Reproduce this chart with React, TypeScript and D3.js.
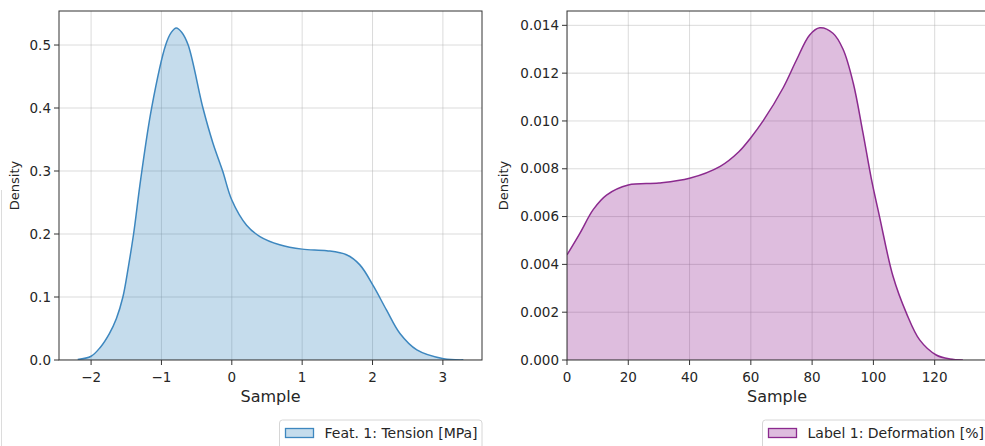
import React from "react";
import * as d3 from "d3";

// Left panel: KDE of Feat. 1: Tension [MPa]
const tensionX = [-2.19, -2.0, -1.87, -1.74, -1.64, -1.548, -1.47, -1.396, -1.296, -1.14, -0.94, -0.86, -0.79, -0.71, -0.62, -0.41, -0.27, -0.13, 0.0, 0.21, 0.4, 0.68, 1.0, 1.35, 1.63, 1.82, 2.02, 2.2, 2.39, 2.63, 3.01, 3.29];
const tensionD = [0.0008, 0.006, 0.02, 0.042, 0.066, 0.1, 0.148, 0.2, 0.286, 0.4, 0.5, 0.52, 0.527, 0.52, 0.5, 0.4, 0.345, 0.3, 0.254, 0.214, 0.196, 0.183, 0.176, 0.1735, 0.167, 0.151, 0.116, 0.079, 0.042, 0.016, 0.002, 0.0002];
const leftXTicks = [-2, -1, 0, 1, 2, 3];
const leftYTicks = [0.0, 0.1, 0.2, 0.3, 0.4, 0.5];

// Right panel: KDE of Label 1: Deformation [%]
const deformX = [0, 4.2, 8.6, 12.9, 20, 30, 40, 50, 56, 60, 64, 70.6, 74.9, 79.2, 82.5, 86.8, 90.1, 93.4, 96.6, 99.3, 102, 106.4, 110.8, 115.1, 120.5, 125, 129.2];
const deformD = [0.0044, 0.0053, 0.0063, 0.0069, 0.00732, 0.0074, 0.0076, 0.0081, 0.0087, 0.0093, 0.01, 0.0114, 0.01255, 0.0136, 0.0139, 0.01367, 0.013, 0.0116, 0.0095, 0.0076, 0.006, 0.0035, 0.00195, 0.00084, 0.00021, 0.00004, 0.0];
const rightXTicks = [0, 20, 40, 60, 80, 100, 120, 140];
const rightYTicks = [0.0, 0.002, 0.004, 0.006, 0.008, 0.01, 0.012, 0.014];

const FONT = "DejaVu Sans, sans-serif";
const TEXT = "#262626";

type PanelProps = {
  xs: number[];
  ds: number[];
  xDomain: [number, number];
  yDomain: [number, number];
  left: number;
  right: number;
  top: number;
  bottom: number;
  xTicks: number[];
  yTicks: number[];
  yFmt: (v: number) => string;
  xFmt: (v: number) => string;
  line: string;
  fill: string;
  fillOpacity: number;
  ylabelX: number;
  legendLabel: string;
  legendLeft: number;
};

function Panel(p: PanelProps) {
  const x = d3.scaleLinear().domain(p.xDomain).range([p.left, p.right]);
  const y = d3.scaleLinear().domain(p.yDomain).range([p.bottom, p.top]);
  const pts: [number, number][] = p.xs.map((v, i) => [v, p.ds[i]]);
  const curve = d3.curveCatmullRom.alpha(0.5);
  const area = d3
    .area<[number, number]>()
    .x((d) => x(d[0]))
    .y0(y(0))
    .y1((d) => y(d[1]))
    .curve(curve);
  const line = d3
    .line<[number, number]>()
    .x((d) => x(d[0]))
    .y((d) => y(d[1]))
    .curve(curve);
  const clipId = "clip" + p.left;
  const midX = (p.left + p.right) / 2;
  const midY = (p.top + p.bottom) / 2;
  return (
    <g>
      <defs>
        <clipPath id={clipId}>
          <rect x={p.left} y={p.top} width={p.right - p.left} height={p.bottom - p.top} />
        </clipPath>
      </defs>
      <rect x={p.left} y={p.top} width={p.right - p.left} height={p.bottom - p.top} fill="#fff" />
      <g clipPath={`url(#${clipId})`}>
        {p.xTicks.map((t) => (
          <line key={"gx" + t} x1={x(t)} x2={x(t)} y1={p.top} y2={p.bottom} stroke="#b0b0b0" strokeOpacity={0.45} strokeWidth={1} />
        ))}
        {p.yTicks.map((t) => (
          <line key={"gy" + t} x1={p.left} x2={p.right} y1={y(t)} y2={y(t)} stroke="#b0b0b0" strokeOpacity={0.45} strokeWidth={1} />
        ))}
        <path d={area(pts) || ""} fill={p.fill} fillOpacity={p.fillOpacity} />
        <path d={line(pts) || ""} fill="none" stroke={p.line} strokeWidth={1.5} />
      </g>
      <rect x={p.left} y={p.top} width={p.right - p.left} height={p.bottom - p.top} fill="none" stroke="#333" strokeWidth={1} />
      {p.xTicks.map((t) =>
        x(t) <= p.right + 0.5 ? (
          <g key={"tx" + t}>
            <line x1={x(t)} x2={x(t)} y1={p.bottom} y2={p.bottom + 5} stroke="#333" />
            <text x={x(t)} y={p.bottom + 22} textAnchor="middle" fontSize={13.5} fontFamily={FONT} fill={TEXT}>
              {p.xFmt(t)}
            </text>
          </g>
        ) : null
      )}
      {p.yTicks.map((t) => (
        <g key={"ty" + t}>
          <line x1={p.left - 5} x2={p.left} y1={y(t)} y2={y(t)} stroke="#333" />
          <text x={p.left - 8} y={y(t)} dy="0.35em" textAnchor="end" fontSize={13.5} fontFamily={FONT} fill={TEXT}>
            {p.yFmt(t)}
          </text>
        </g>
      ))}
      <text x={midX} y={p.bottom + 42} textAnchor="middle" fontSize={16} fontFamily={FONT} fill={TEXT}>
        Sample
      </text>
      <text
        transform={`translate(${p.ylabelX},${midY}) rotate(-90)`}
        textAnchor="middle"
        dy="0.35em"
        fontSize={13}
        fontFamily={FONT}
        fill={TEXT}
      >
        Density
      </text>
      <g>
        <rect x={p.legendLeft} y={420} width={p.right - p.legendLeft} height={29} rx={3} fill="#fff" stroke="#d6d6d6" />
        <rect x={p.legendLeft + 6} y={428.5} width={28} height={9} fill={p.fill} fillOpacity={p.fillOpacity} stroke={p.line} strokeWidth={1.3} />
        <text x={p.legendLeft + 45} y={433} dy="0.35em" fontSize={14} fontFamily={FONT} fill={TEXT}>
          {p.legendLabel}
        </text>
      </g>
    </g>
  );
}

export default function App() {
  return (
    <svg width={985} height={446} style={{ position: "absolute", left: 0, top: 0, background: "#fff" }}>
      <rect x={0} y={0} width={985} height={446} fill="#fff" />
      <line x1={1.5} x2={1.5} y1={190} y2={446} stroke="#dcdcdc" strokeWidth={1} />
      <Panel
        xs={tensionX}
        ds={tensionD}
        xDomain={[-2.456, 3.556]}
        yDomain={[0, 0.554]}
        left={59}
        right={482}
        top={11}
        bottom={360}
        xTicks={leftXTicks}
        yTicks={leftYTicks}
        yFmt={(v) => v.toFixed(1)}
        xFmt={(v) => (v < 0 ? "\u2212" + Math.abs(v) : String(v))}
        line="#3d87bf"
        fill="#1f77b4"
        fillOpacity={0.26}
        ylabelX={14}
        legendLabel="Feat. 1: Tension [MPa]"
        legendLeft={279.5}
      />
      <Panel
        xs={deformX}
        ds={deformD}
        xDomain={[0, (987 - 567) / 3.064]}
        yDomain={[0, 0.0146]}
        left={567}
        right={987}
        top={11}
        bottom={360}
        xTicks={rightXTicks}
        yTicks={rightYTicks}
        yFmt={(v) => v.toFixed(3)}
        xFmt={(v) => String(v)}
        line="#8b2a8e"
        fill="#800080"
        fillOpacity={0.26}
        ylabelX={503}
        legendLabel="Label 1: Deformation [%]"
        legendLeft={762.5}
      />
    </svg>
  );
}
